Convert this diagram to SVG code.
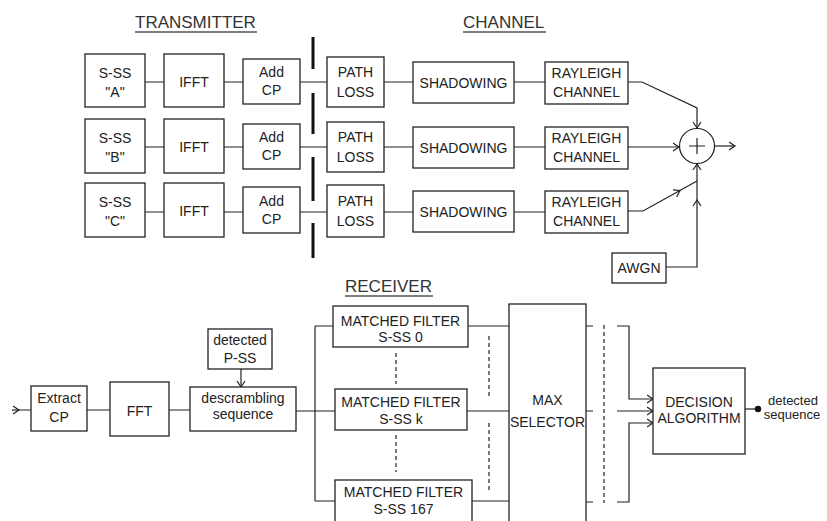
<svg xmlns="http://www.w3.org/2000/svg" width="827" height="521" viewBox="0 0 827 521">
<style>
  .box{fill:#fff;stroke:#222;stroke-width:1.3}
  .t{font-family:"Liberation Sans",Arial,sans-serif;font-size:14px;fill:#222;text-anchor:middle}
  .s{font-family:"Liberation Sans",Arial,sans-serif;font-size:13px;fill:#222;text-anchor:middle}
  .h{font-family:"Liberation Sans",Arial,sans-serif;font-size:17px;fill:#333}
  .w{fill:none;stroke:#222;stroke-width:1.2}
  .d{fill:none;stroke:#222;stroke-width:1.2;stroke-dasharray:4 3}
  .thick{fill:none;stroke:#111;stroke-width:3}
</style>
<defs>
  <marker id="arr" markerWidth="8" markerHeight="10" refX="6" refY="5" orient="auto" markerUnits="userSpaceOnUse">
    <path d="M0,1 L6,5 L0,9" fill="none" stroke="#222" stroke-width="1.2"/>
  </marker>
</defs>
<rect width="827" height="521" fill="#fff"/>

<g id="headings">
  <text class="h" x="135" y="28">TRANSMITTER</text>
  <line x1="135" y1="32" x2="257" y2="32" stroke="#555" stroke-width="1.3"/>
  <text class="h" x="463" y="28">CHANNEL</text>
  <line x1="463" y1="32" x2="546" y2="32" stroke="#555" stroke-width="1.3"/>
  <text class="h" x="345" y="292">RECEIVER</text>
  <line x1="345" y1="296" x2="433" y2="296" stroke="#555" stroke-width="1.3"/>
</g>

<g id="connectors">
  <path class="w" d="M145,82H164M224,82H243M300,82H327M384,82H413M514,82H545"/>
  <path class="w" d="M145,147H164M224,147H243M300,147H327M384,147H413M514,147H545"/>
  <path class="w" d="M145,212H164M224,212H243M300,212H327M384,212H413M514,212H545"/>
  <path class="thick" d="M313,37V69M313,93V134M313,157V201M313,223V258"/>
  <path class="w" d="M628,82H642L697,108V128" marker-end="url(#arr)"/>
  <path class="w" d="M628,147H679" marker-end="url(#arr)"/>
  <path class="w" d="M628,211H643L680,190.5" marker-end="url(#arr)"/>
  <path class="w" d="M679,191L697,181"/>
  <path class="w" d="M666,267H697V200" marker-end="url(#arr)"/>
  <path class="w" d="M697,200V164" marker-end="url(#arr)"/>
  <path class="w" d="M715,146H735" marker-end="url(#arr)"/>
  <path class="w" d="M12,410H19" marker-end="url(#arr)"/>
  <path class="w" d="M18,410H31M87,410H110M169,410H190"/>
  <path class="w" d="M241,369V387" marker-end="url(#arr)"/>
  <path class="w" d="M296,411H315M315,326V501M315,326H333M315,411H335M315,501H335"/>
  <path class="w" d="M468,326H509M467,411H509M472,501H509"/>
  <path class="d" d="M396,353V384M396,435V472M489,336V397M489,423V490"/>
  <path class="w" d="M586,326H593M586,411H593M586,502H593"/>
  <path class="d" d="M604,325V503"/>
  <path class="w" d="M617,326H629V399H653" marker-end="url(#arr)"/>
  <path class="w" d="M617,411H653" marker-end="url(#arr)"/>
  <path class="w" d="M617,502H629V423H653" marker-end="url(#arr)"/>
  <path class="w" d="M745,409H758"/>
  <circle cx="758" cy="409" r="3.2" fill="#111"/>
</g>

<g id="sss-a"><rect class="box" x="85" y="54" width="60" height="53"/><text class="t" x="115" y="78">S-SS</text><text class="t" x="115" y="97">"A"</text></g>
<g id="ifft-a"><rect class="box" x="164" y="54" width="60" height="53"/><text class="t" x="194" y="87">IFFT</text></g>
<g id="addcp-a"><rect class="box" x="243" y="59" width="57" height="45"/><text class="t" x="271.5" y="77">Add</text><text class="t" x="271.5" y="95">CP</text></g>
<g id="pathloss-a"><rect class="box" x="327" y="57" width="57" height="50"/><text class="t" x="355.5" y="77">PATH</text><text class="t" x="355.5" y="97">LOSS</text></g>
<g id="shadow-a"><rect class="box" x="413" y="62" width="101" height="41"/><text class="t" x="463.5" y="88">SHADOWING</text></g>
<g id="rayleigh-a"><rect class="box" x="545" y="62" width="83" height="42"/><text class="t" x="586.5" y="78">RAYLEIGH</text><text class="t" x="586.5" y="97">CHANNEL</text></g>

<g id="sss-b"><rect class="box" x="85" y="119" width="60" height="54"/><text class="t" x="115" y="143">S-SS</text><text class="t" x="115" y="162">"B"</text></g>
<g id="ifft-b"><rect class="box" x="164" y="119" width="60" height="54"/><text class="t" x="194" y="152">IFFT</text></g>
<g id="addcp-b"><rect class="box" x="243" y="124" width="57" height="45"/><text class="t" x="271.5" y="142">Add</text><text class="t" x="271.5" y="160">CP</text></g>
<g id="pathloss-b"><rect class="box" x="327" y="122" width="57" height="50"/><text class="t" x="355.5" y="142">PATH</text><text class="t" x="355.5" y="162">LOSS</text></g>
<g id="shadow-b"><rect class="box" x="413" y="127" width="101" height="41"/><text class="t" x="463.5" y="153">SHADOWING</text></g>
<g id="rayleigh-b"><rect class="box" x="545" y="127" width="83" height="42"/><text class="t" x="586.5" y="143">RAYLEIGH</text><text class="t" x="586.5" y="162">CHANNEL</text></g>

<g id="sss-c"><rect class="box" x="85" y="183" width="60" height="54"/><text class="t" x="115" y="207">S-SS</text><text class="t" x="115" y="226">"C"</text></g>
<g id="ifft-c"><rect class="box" x="164" y="183" width="60" height="54"/><text class="t" x="194" y="216">IFFT</text></g>
<g id="addcp-c"><rect class="box" x="243" y="187" width="57" height="46"/><text class="t" x="271.5" y="206">Add</text><text class="t" x="271.5" y="224">CP</text></g>
<g id="pathloss-c"><rect class="box" x="327" y="185" width="57" height="52"/><text class="t" x="355.5" y="206">PATH</text><text class="t" x="355.5" y="226">LOSS</text></g>
<g id="shadow-c"><rect class="box" x="413" y="191" width="101" height="41"/><text class="t" x="463.5" y="217">SHADOWING</text></g>
<g id="rayleigh-c"><rect class="box" x="545" y="191" width="83" height="42"/><text class="t" x="586.5" y="207">RAYLEIGH</text><text class="t" x="586.5" y="226">CHANNEL</text></g>

<g id="summer"><circle cx="697" cy="146" r="17.5" fill="#fff" stroke="#222" stroke-width="1.2"/><path class="w" d="M689,146H705M697,138V154"/></g>
<g id="awgn"><rect class="box" x="612" y="253" width="54" height="30"/><text class="t" x="639" y="273">AWGN</text></g>

<g id="extract-cp"><rect class="box" x="31" y="386" width="56" height="45"/><text class="t" x="59" y="403">Extract</text><text class="t" x="59" y="422">CP</text></g>
<g id="fft"><rect class="box" x="110" y="382" width="59" height="54"/><text class="t" x="139.5" y="416">FFT</text></g>
<g id="detected-pss"><rect class="box" x="208" y="329" width="64" height="40"/><text class="t" x="240" y="345">detected</text><text class="t" x="240" y="363">P-SS</text></g>
<g id="descrambling"><rect class="box" x="190" y="387" width="106" height="44"/><text class="t" x="243" y="403">descrambling</text><text class="t" x="243" y="419">sequence</text></g>
<g id="mf-0"><rect class="box" x="333" y="306" width="135" height="41"/><text class="t" x="400.5" y="326">MATCHED FILTER</text><text class="t" x="400.5" y="342">S-SS 0</text></g>
<g id="mf-k"><rect class="box" x="335" y="389" width="132" height="41"/><text class="t" x="401" y="407">MATCHED FILTER</text><text class="t" x="401" y="424">S-SS k</text></g>
<g id="mf-167"><rect class="box" x="335" y="480" width="137" height="50"/><text class="t" x="403.5" y="497">MATCHED FILTER</text><text class="t" x="403.5" y="514">S-SS 167</text></g>
<g id="max-selector"><rect class="box" x="509" y="304" width="77" height="226"/><text class="t" x="547.5" y="405">MAX</text><text class="t" x="547.5" y="427">SELECTOR</text></g>
<g id="decision"><rect class="box" x="653" y="368" width="92" height="86"/><text class="t" x="699" y="407">DECISION</text><text class="t" x="699" y="423">ALGORITHM</text></g>
<g id="output-label"><text class="s" x="793" y="405">detected</text><text class="s" x="792" y="419">sequence</text></g>
</svg>
